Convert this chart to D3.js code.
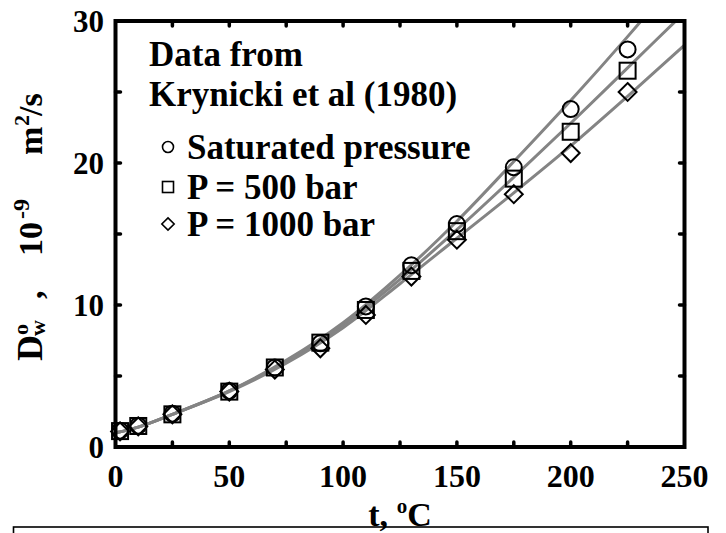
<!DOCTYPE html>
<html>
<head>
<meta charset="utf-8">
<script src="https://cdn.jsdelivr.net/npm/d3@7"></script>
<style>
  html, body { margin: 0; padding: 0; background: #fff; }
  svg { display: block; }
</style>
</head>
<body>
<svg id="chart" width="726" height="533"></svg>
<script>
// Self-diffusion coefficient of water, Krynicki et al (1980)
const temps = [2, 10, 25, 50, 70, 90, 110, 130, 150, 175, 200, 225];          // t, °C
const satPressure = [1.15, 1.5, 2.35, 3.95, 5.6, 7.3, 9.9, 12.8, 15.7, 19.7, 23.8, 28.0];
const p500bar     = [1.12, 1.48, 2.3, 3.9, 5.6, 7.35, 9.65, 12.4, 15.2, 18.9, 22.2, 26.5];
const p1000bar    = [1.1, 1.45, 2.3, 3.9, 5.45, 6.95, 9.3, 12.0, 14.6, 17.8, 20.7, 25.0];

// Correlation curves, sampled along t
const fitTemps = [0, 10, 25, 50, 75, 100, 125, 150, 175, 200, 225, 250];
const fitSat   = [1.0, 1.4, 2.3, 3.95, 6.1, 8.75, 12.1, 15.9, 20.1, 24.4, 28.9, 33.6];
const fit500   = [1.0, 1.4, 2.3, 3.95, 6.0, 8.6, 11.8, 15.3, 19.0, 22.8, 26.7, 30.6];
const fit1000  = [1.0, 1.4, 2.3, 3.9, 5.9, 8.4, 11.5, 14.7, 17.9, 21.2, 24.7, 28.3];

const xTicks = [0, 50, 100, 150, 200, 250];
const yTicks = [0, 10, 20, 30];
const xMinor = [25, 50, 75, 100, 125, 150, 175, 200, 225];
const yMinor = [5, 10, 15, 20, 25];

const legendLabels = ["Saturated pressure", "P = 500 bar", "P = 1000 bar"];
const noteLines = ["Data from", "Krynicki et al (1980)"];

const FONT = "'Liberation Serif', 'DejaVu Serif', serif";

const svg = d3.select("#chart")
  .attr("font-family", FONT).attr("font-weight", "bold");
const L = 115.5, R = 684.5, T = 21, B = 447;
const x = d3.scaleLinear().domain([0, 250]).range([L, R]);
const y = d3.scaleLinear().domain([0, 30]).range([B, T]);

// lower panel frame
svg.append("rect").attr("x", 13.5).attr("y", 527).attr("width", 694.5).attr("height", 30)
  .attr("fill", "none").attr("stroke", "#000").attr("stroke-width", 1.6);

svg.append("defs").append("clipPath").attr("id", "plotClip")
  .append("rect").attr("x", L).attr("y", T).attr("width", R - L).attr("height", B - T);

// fitted curves
const line = d3.line().x(d => x(d[0])).y(d => y(d[1])).curve(d3.curveCatmullRom);
const curves = svg.append("g").attr("clip-path", "url(#plotClip)");
[fitSat, fit500, fit1000].forEach(vals => {
  curves.append("path")
    .datum(fitTemps.map((t, i) => [t, vals[i]]))
    .attr("d", line)
    .attr("fill", "none").attr("stroke", "#848484").attr("stroke-width", 3);
});

// marker shapes
function drawMarker(g, kind, cx, cy, s) {
  if (kind === 0) {
    g.append("circle").attr("cx", cx).attr("cy", cy).attr("r", s / 2);
  } else if (kind === 1) {
    g.append("rect").attr("x", cx - s / 2).attr("y", cy - s / 2).attr("width", s).attr("height", s);
  } else {
    const h = s * 0.56;
    g.append("path").attr("d", `M${cx},${cy - h}L${cx + h},${cy}L${cx},${cy + h}L${cx - h},${cy}Z`);
  }
}

const pts = svg.append("g").attr("fill", "none").attr("stroke", "#000").attr("stroke-width", 2);
[satPressure, p500bar, p1000bar].forEach((vals, k) => {
  temps.forEach((t, i) => drawMarker(pts, k, x(t), y(vals[i]), 16));
});

// frame and inward ticks on all four sides
const frame = svg.append("g").attr("stroke", "#000");
frame.append("rect").attr("x", L).attr("y", T).attr("width", R - L).attr("height", B - T)
  .attr("fill", "none").attr("stroke-width", 4);
const tl = 5;
xMinor.forEach(t => {
  frame.append("line").attr("x1", x(t)).attr("x2", x(t)).attr("y1", B).attr("y2", B - tl)
    .attr("stroke-width", 3.5).attr("stroke-linecap", "round");
  frame.append("line").attr("x1", x(t)).attr("x2", x(t)).attr("y1", T).attr("y2", T + tl)
    .attr("stroke-width", 3.5).attr("stroke-linecap", "round");
});
yMinor.forEach(v => {
  frame.append("line").attr("x1", L).attr("x2", L + tl).attr("y1", y(v)).attr("y2", y(v))
    .attr("stroke-width", 3.5).attr("stroke-linecap", "round");
  frame.append("line").attr("x1", R).attr("x2", R - tl).attr("y1", y(v)).attr("y2", y(v))
    .attr("stroke-width", 3.5).attr("stroke-linecap", "round");
});

// tick labels
svg.append("g").selectAll("text").data(xTicks).join("text")
  .attr("x", d => x(d)).attr("y", 487).attr("text-anchor", "middle")
  .attr("font-size", 32).text(d => d);
svg.append("g").selectAll("text").data(yTicks).join("text")
  .attr("x", 104).attr("y", d => y(d) + 11).attr("text-anchor", "end")
  .attr("font-size", 31).text(d => d);

// x axis title
const xt = svg.append("text").attr("x", 400).attr("y", 526).attr("text-anchor", "middle")
  .attr("font-size", 34);
xt.append("tspan").text("t, ");
xt.append("tspan").attr("dy", -13).attr("font-size", 21).text("o");
xt.append("tspan").attr("dy", 13).text("C");

// y axis title, rotated
const yt = svg.append("g").attr("transform", "translate(42,0) rotate(-90)");
function piece(txt, pageY, size, shift) {
  yt.append("text").attr("x", -pageY).attr("y", shift).attr("font-size", size).text(txt);
}
piece("D", 361, 36, 0);
piece("o", 335, 22, -14);
piece("w", 336, 22, 3);
piece(",", 299, 34, 0);
piece("10", 256, 34, 0);
piece("-9", 219, 24, -13);
piece("m", 155, 34, 0);
piece("2", 126, 22, -13);
piece("/s", 116, 34, 0);

// note and legend
const note = svg.append("g").attr("font-size", 35);
note.append("text").attr("x", 149).attr("y", 66).text(noteLines[0]);
note.append("text").attr("x", 149).attr("y", 106).text(noteLines[1]);

const legY = [159, 199, 236];
const lg = svg.append("g");
legendLabels.forEach((lab, k) => {
  lg.append("text").attr("x", 187).attr("y", legY[k]).attr("font-size", 35).text(lab);
  const m = lg.append("g").attr("fill", "none").attr("stroke", "#000").attr("stroke-width", 1.6);
  drawMarker(m, k, 168, legY[k] - 12, 11);
});
</script>
</body>
</html>
